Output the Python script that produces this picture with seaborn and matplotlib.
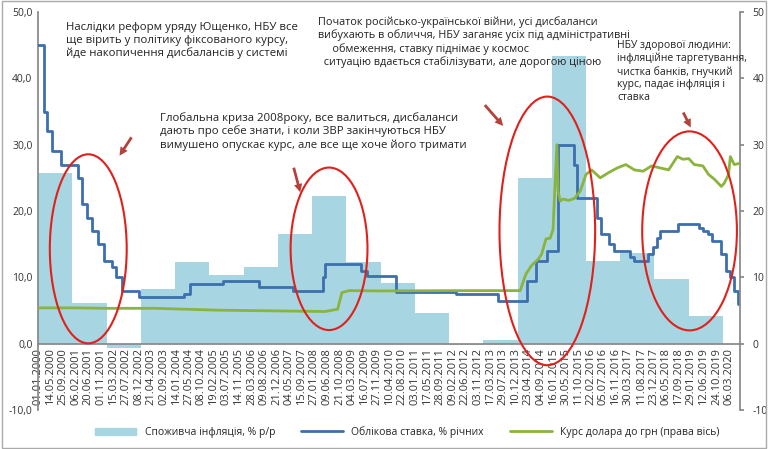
import pandas as pd, numpy as np
import matplotlib
matplotlib.use("Agg")
import matplotlib.pyplot as plt
import matplotlib.dates as mdates
from matplotlib.patches import Ellipse, Patch
from matplotlib.lines import Line2D
import seaborn as sns

years = list(range(2000, 2020))
inflation = [25.8, 6.1, -0.6, 8.2, 12.3, 10.3, 11.6, 16.6, 22.3, 12.3, 9.1, 4.6, -0.2, 0.5, 24.9, 43.3, 12.4, 13.7, 9.8, 4.1]

rate_dates = ["2000-01-01","2000-03-01","2000-04-10","2000-06-01","2000-09-01","2001-03-01","2001-04-10","2001-06-10",
 "2001-08-01","2001-10-01","2001-12-10","2002-03-01","2002-04-10","2002-06-10","2002-12-10","2004-04-01","2004-06-10",
 "2005-06-01","2006-06-10","2007-06-10","2008-04-25","2008-05-20","2009-06-10","2009-08-10","2010-06-10","2012-03-20",
 "2013-06-10","2014-04-15","2014-07-17","2014-11-13","2015-03-04","2015-08-28","2015-09-25","2016-04-29","2016-06-10",
 "2016-09-01","2016-10-28","2017-04-14","2017-05-26","2017-10-27","2017-12-15","2018-01-26","2018-03-02","2018-09-07",
 "2019-04-26","2019-06-07","2019-07-26","2019-09-06","2019-10-25","2019-12-13","2020-01-31","2020-03-13","2020-04-24",
 "2020-06-12","2020-07-01"]
rate_values = [45, 35, 32, 29, 27, 25, 21, 19, 17, 15, 12.5, 11.5, 10, 8, 7, 7.5, 9, 9.5, 8.5, 8, 10, 12, 11, 10.25,
 7.75, 7.5, 6.5, 9.5, 12.5, 14, 30, 27, 22, 19, 16.5, 15, 14, 13, 12.5, 13.5, 14.5, 16, 17, 18, 17.5, 17, 16.5, 15.5,
 15.5, 13.5, 11, 10, 8, 6, 6]

fx_dates = ["2000-01-01","2001-01-01","2002-01-01","2003-06-01","2005-04-01","2008-05-20","2008-10-01","2008-11-15",
 "2009-02-01","2010-01-01","2012-01-01","2014-01-31","2014-02-15","2014-04-01","2014-06-01","2014-08-15","2014-09-15",
 "2014-11-01","2014-12-15","2015-01-15","2015-02-05","2015-02-25","2015-03-10","2015-04-01","2015-05-01","2015-07-01",
 "2015-09-01","2015-11-01","2016-01-01","2016-03-01","2016-06-01","2016-09-01","2016-12-01","2017-03-01","2017-06-01",
 "2017-09-01","2017-12-01","2018-03-01","2018-06-01","2018-09-01","2018-11-01","2019-01-01","2019-03-01","2019-06-01",
 "2019-08-01","2019-10-01","2019-12-15","2020-01-15","2020-03-01","2020-03-20","2020-05-01","2020-07-01"]
fx_values = [5.4, 5.4, 5.33, 5.33, 5.05, 4.85, 5.2, 7.7, 8.0, 7.95, 7.99, 8.0, 8.7, 10.5, 11.8, 12.8, 13.5, 15.8, 15.9,
 17.2, 24.0, 30.0, 23.0, 21.5, 21.8, 21.6, 21.9, 23.0, 25.5, 26.2, 25.0, 25.8, 26.5, 27.0, 26.2, 26.0, 26.8, 26.5, 26.2,
 28.2, 27.8, 27.9, 27.0, 26.8, 25.5, 24.8, 23.7, 24.2, 25.5, 28.2, 27.0, 27.2]

tick_dates = pd.date_range("2000-01-01", "2020-03-06", freq="134D")

sns.set_theme(style="white")
plt.rcParams['font.family'] = ['Open Sans', 'DejaVu Sans']

fig = plt.figure(figsize=(7.68, 4.49), dpi=100)
ax = fig.add_axes([38/768, 39/449, 702/768, 398/449])
ax.set_xlim(mdates.date2num(pd.Timestamp("2000-01-01")), mdates.date2num(pd.Timestamp("2020-07-01")))
ax.set_ylim(-10, 50)

bar_x = [mdates.date2num(pd.Timestamp(f"{y}-01-01")) for y in years]
ax.bar(bar_x, inflation, width=365, align="edge", color="#a8d5e2", linewidth=0, zorder=1)

rdf = pd.DataFrame({"d": pd.to_datetime(rate_dates), "v": rate_values})
sns.lineplot(data=rdf, x="d", y="v", ax=ax, color="#3c6fae", linewidth=2, drawstyle="steps-post", zorder=3)

ax2 = ax.twinx()
ax2.set_ylim(-10, 50)
fdf = pd.DataFrame({"d": pd.to_datetime(fx_dates), "v": fx_values})
sns.lineplot(data=fdf, x="d", y="v", ax=ax2, color="#8ab43c", linewidth=2, zorder=3)

ax.spines['bottom'].set_position(('data', 0))
for a in (ax, ax2):
    a.spines['top'].set_visible(False)
    a.set_xlabel(""); a.set_ylabel("")
ax2.spines['bottom'].set_visible(False)
ax.spines['right'].set_visible(False)
for s in ['left', 'bottom']:
    ax.spines[s].set_color('#888888')
ax2.spines['right'].set_color('#888888')
ax2.spines['left'].set_visible(False)

ax.set_xticks([mdates.date2num(d) for d in tick_dates])
ax.set_xticklabels([d.strftime("%d.%m.%Y") for d in tick_dates], rotation=90, fontsize=8, color="#333333")
ax.tick_params(axis='x', length=0, pad=3)
ax.set_yticks(range(-10, 51, 10))
ax.set_yticklabels([f"{v:.1f}".replace(".", ",") for v in range(-10, 51, 10)], fontsize=7.5, color="#333333")
ax.tick_params(axis='y', length=0, pad=4)
ax2.set_yticks(range(-10, 51, 10))
ax2.set_yticklabels([str(v) for v in range(-10, 51, 10)], fontsize=7.5, color="#333333")
ax2.tick_params(axis='y', length=3, color="#888888", pad=6)

def ell(cx, cy, wd, h):
    e = Ellipse((mdates.date2num(pd.Timestamp(cx)), cy), wd, h, fill=False, edgecolor="#e0201b", linewidth=1.5, zorder=5)
    ax2.add_patch(e)
ell("2001-06-20", 14.3, 820, 28.5)
ell("2008-07-01", 14.3, 820, 24.5)
ell("2014-11-15", 17.0, 1020, 40.5)
ell("2019-01-10", 17.0, 1010, 30)

H = 449
def ftxt(x, y, s, fs=8.2):
    fig.text(x/768, 1 - y/H, s, fontsize=fs, va="top", color="#222222", linespacing=1.2)
ftxt(66, 22, "Наслідки реформ уряду Ющенко, НБУ все\nще вірить у політику фіксованого курсу,\nйде накопичення дисбалансів у системі")
ftxt(160, 112, "Глобальна криза 2008року, все валиться, дисбаланси\nдають про себе знати, і коли ЗВР закінчуються НБУ\nвимушено опускає курс, але все ще хоче його тримати")
ftxt(318, 16, "Початок російсько-української війни, усі дисбаланси\nвибухають в обличчя, НБУ заганяє усіх під адміністративні\n     обмеження, ставку піднімає у космос\n  ситуацію вдається стабілізувати, але дорогою ціною", fs=7.8)
ftxt(617, 40, "НБУ здорової людини:\nінфляційне таргетування,\nчистка банків, гнучкий\nкурс, падає інфляція і\nставка", fs=7.5)

def arrow(x0, y0, x1, y1):
    fig.add_artist(matplotlib.patches.FancyArrowPatch((x0/768, 1-y0/H), (x1/768, 1-y1/H), transform=fig.transFigure,
        arrowstyle="simple,head_width=6,head_length=6,tail_width=2", color="#b5413b", linewidth=0))
arrow(133, 135, 118, 158)
arrow(293, 165, 301, 195)
arrow(483, 103, 505, 128)
arrow(682, 110, 692, 130)

handles = [Patch(color="#a8d5e2"), Line2D([], [], color="#3c6fae", lw=2), Line2D([], [], color="#8ab43c", lw=2)]
labels = ["Споживча інфляція, % р/р", "Облікова ставка, % річних", "Курс долара до грн (права вісь)"]
fig.legend(handles, labels, loc="center", bbox_to_anchor=(0.53, 1-432/H), ncol=3, frameon=False, fontsize=7.5,
           handlelength=4, columnspacing=2.5)
fig.add_artist(matplotlib.patches.Rectangle((0.002, 0.003), 0.995, 0.994, transform=fig.transFigure, fill=False,
               edgecolor="#aaaaaa", linewidth=1))
fig.savefig("out.png", dpi=100)
